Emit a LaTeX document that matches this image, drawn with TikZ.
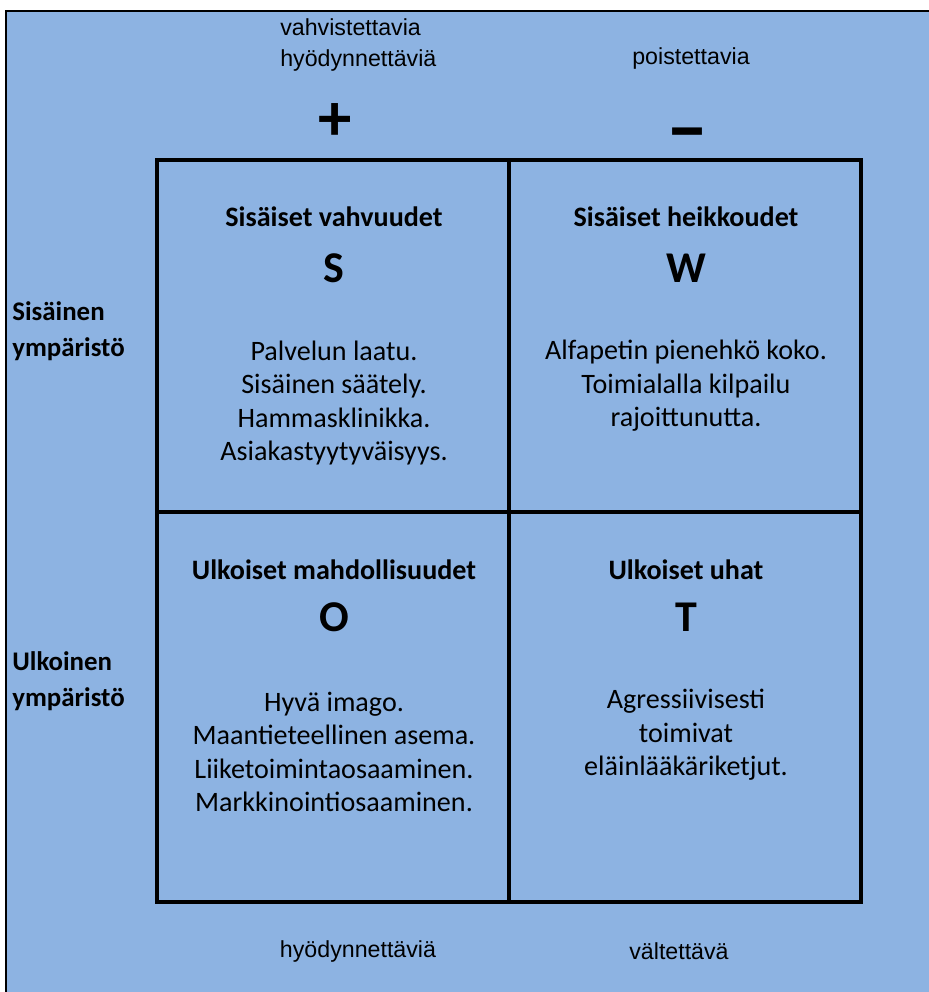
\documentclass[tikz,border=0pt]{standalone}
\usepackage{fontspec}
\setmainfont{Carlito}
\newfontfamily\labelfont{Liberation Sans}
\definecolor{swotblue}{HTML}{8DB3E2}
\tikzset{
  cellline/.style={line width=0.08cm},
  frameline/.style={line width=0.05cm},
  headtext/.style={font=\fontsize{16}{19}\selectfont\bfseries, inner sep=0pt},
  lettertext/.style={font=\fontsize{25}{30}\selectfont\bfseries, inner sep=0pt},
  signtext/.style={font=\fontsize{38}{40}\selectfont\bfseries, inner sep=0pt},
  bodytext/.style={font=\fontsize{16}{19.1}\selectfont, align=center, inner sep=0pt},
  sidetext/.style={font=\fontsize{15.3}{20.4}\selectfont\bfseries, align=left, inner sep=0pt, anchor=west},
  toptext/.style={font=\labelfont\fontsize{13.2}{17.5}\selectfont, align=left, inner sep=0pt},
}
\begin{document}
\begin{tikzpicture}[x=0.02cm,y=-0.02cm]
\useasboundingbox (0,0) rectangle (929,992);
\clip (-10,-10) rectangle (940,1004);

% Background and outer frame
\fill [white] (-10,-10) rectangle (940,1004);
\filldraw [fill=swotblue, draw=black, frameline] (6,11) rectangle (1000,1050);

% Grid corners
\coordinate (tl) at (157,160);
\coordinate (tm) at (509,160);
\coordinate (ml) at (157,512);
\coordinate (mr) at (861,512);
\coordinate (bm) at (509,902);
\coordinate (br) at (861,902);

% Drawing the four cells
\draw [cellline] (tl) rectangle (br);
\draw [cellline] (tm) -- (bm);
\draw [cellline] (ml) -- (mr);

% Column labels on top
\node [toptext, anchor=west] (topplus) at (280,45) {vahvistettavia\\hyödynnettäviä};
\node [toptext] (topminus) at (691,58) {poistettavia};
\node [signtext] (plus) at (335,122) {+};
\node [signtext, font=\fontsize{48}{50}\selectfont\bfseries, anchor=base] (minus) at (687,155) {–};

% Row labels on the left
\node [sidetext] (inner) at (12,331) {Sisäinen\\ympäristö};
\node [sidetext] (outer) at (12,681) {Ulkoinen\\ympäristö};

% Cell S
\node [headtext] (shead) at (334,217) {Sisäiset vahvuudet};
\node [lettertext] (sletter) at (334,268) {S};
\node [bodytext] (sbody) at (334,403) {Palvelun laatu.\\Sisäinen säätely.\\Hammasklinikka.\\Asiakastyytyväisyys.};

% Cell W
\node [headtext] (whead) at (686,217) {Sisäiset heikkoudet};
\node [lettertext] (wletter) at (686,268) {W};
\node [bodytext] (wbody) at (686,386) {Alfapetin pienehkö koko.\\Toimialalla kilpailu\\rajoittunutta.};

% Cell O
\node [headtext] (ohead) at (334,570) {Ulkoiset mahdollisuudet};
\node [lettertext] (oletter) at (334,617) {O};
\node [bodytext] (obody) at (334,752) {Hyvä imago.\\Maantieteellinen asema.\\Liiketoimintaosaaminen.\\Markkinointiosaaminen.};

% Cell T
\node [headtext] (thead) at (686,570) {Ulkoiset uhat};
\node [lettertext] (tletter) at (686,617) {T};
\node [bodytext] (tbody) at (686,735) {Agressiivisesti\hspace{0.6em}\\toimivat\\eläinlääkäriketjut.};

% Column labels at the bottom
\node [toptext] (bothyod) at (358,951) {hyödynnettäviä};
\node [toptext] (botvalt) at (679,951) {vältettävä};
\end{tikzpicture}
\end{document}
